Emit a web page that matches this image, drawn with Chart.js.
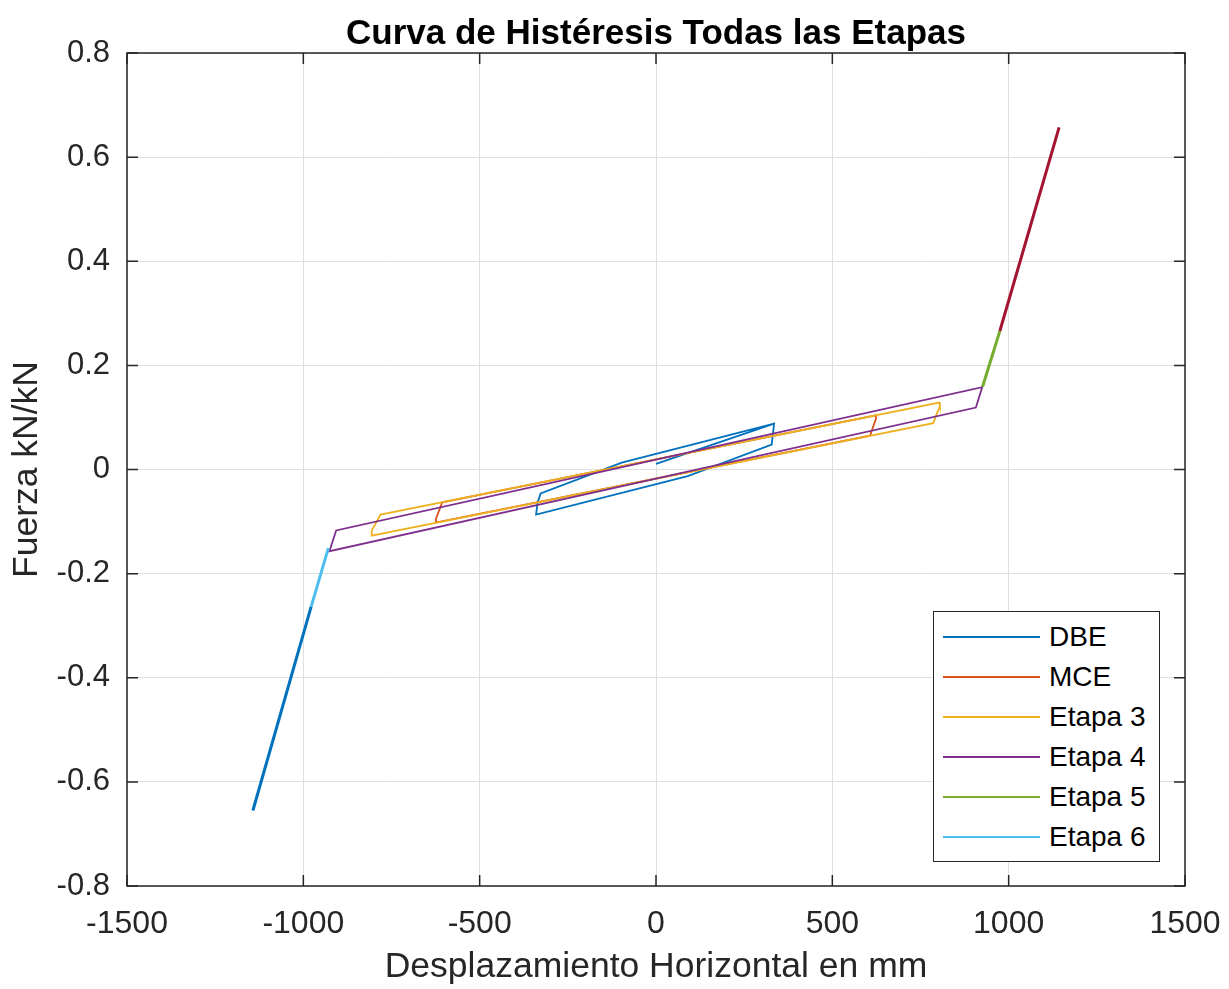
<!DOCTYPE html>
<html>
<head>
<meta charset="utf-8">
<script src="https://cdn.jsdelivr.net/npm/chart.js@4.4.1/dist/chart.umd.min.js"></script>
<style>
  body { margin: 0; background: #fff; }
  #wrap { position: relative; width: 1229px; height: 989px; }
  #legendBox {
    position: absolute; left: 933px; top: 611px; width: 227px; height: 251px;
    box-sizing: border-box; border: 1.3px solid #262626; background: #fff;
    padding-top: 5px; font-family: 'Liberation Sans', Arial, sans-serif;
  }
  .row { display: flex; align-items: center; height: 40px; }
  .swatch { display: block; margin-left: 9px; width: 97px; height: 2px; }
  .label { margin-left: 9px; font-size: 28px; color: #000; }
</style>
</head>
<body>
<div id="wrap">
  <canvas id="hysteresis" width="1229" height="989"></canvas>
  <div id="legendBox"></div>
</div>
<script>
// Hysteresis loops, [displacement mm, force kN/kN]
const dbe = [[0, 0.011], [335, 0.088], [331, 0.066], [328, 0.048], [90, -0.0128], [-340, -0.0865],
             [-336, -0.064], [-327, -0.046], [-97, 0.013], [335, 0.088]];
const mce = [[0, 0.0195], [623, 0.104], [624, 0.098], [607, 0.065], [-625, -0.102], [-624, -0.095],
             [-606, -0.063], [0, 0.0195]];
const etapa3 = [[0, 0.0195], [803, 0.1285], [805, 0.122], [786, 0.089], [-806, -0.127], [-806, -0.117],
                [-781, -0.0865], [0, 0.0195]];
const etapa4 = [[0, 0.019], [925, 0.158], [907, 0.119], [-926, -0.157], [-907, -0.117], [0, 0.019]];
const etapa5 = [[926, 0.159], [975, 0.266]];
const etapa6 = [[-929, -0.151], [-978, -0.264]];
const etapa7 = [[975, 0.266], [1143, 0.657]];
const etapa8 = [[-978, -0.264], [-1143, -0.655]];

const seriesNames = ['DBE', 'MCE', 'Etapa 3', 'Etapa 4', 'Etapa 5', 'Etapa 6', 'Etapa 7', 'Etapa 8'];
const seriesData = [dbe, mce, etapa3, etapa4, etapa5, etapa6, etapa7, etapa8];
const seriesColors = ['#0072BD', '#D95319', '#EDB120', '#7E2F8E', '#77AC30', '#4DBEEE', '#A2142F', '#0072BD'];
const legendCount = 6;

const xTicks = [-1500, -1000, -500, 0, 500, 1000, 1500];
const xTickLabels = ['-1500', '-1000', '-500', '0', '500', '1000', '1500'];
const yTicks = [-0.8, -0.6, -0.4, -0.2, 0, 0.2, 0.4, 0.6, 0.8];
const yTickLabels = ['-0.8', '-0.6', '-0.4', '-0.2', '0', '0.2', '0.4', '0.6', '0.8'];

const chartTitle = 'Curva de Histéresis Todas las Etapas';

const fontFamily = "'Liberation Sans', Arial, Helvetica, sans-serif";
Chart.defaults.font.family = fontFamily;

const ink = '#262626';
const gridColor = '#dfdfdf';

// box around the axes with inward ticks on all four sides, title centred over the plot
const axisFrame = {
  id: 'axisFrame',
  afterDraw(chart) {
    const { ctx, chartArea: a, scales: { x, y } } = chart;
    const len = 11;
    ctx.save();
    ctx.strokeStyle = ink;
    ctx.lineWidth = 1.5;
    ctx.strokeRect(a.left, a.top, a.right - a.left, a.bottom - a.top);
    ctx.beginPath();
    xTicks.forEach(v => {
      const px = x.getPixelForValue(v);
      ctx.moveTo(px, a.bottom); ctx.lineTo(px, a.bottom - len);
      ctx.moveTo(px, a.top); ctx.lineTo(px, a.top + len);
    });
    yTicks.forEach(v => {
      const py = y.getPixelForValue(v);
      ctx.moveTo(a.left, py); ctx.lineTo(a.left + len, py);
      ctx.moveTo(a.right, py); ctx.lineTo(a.right - len, py);
    });
    ctx.stroke();

    ctx.fillStyle = '#000';
    ctx.font = 'bold 35px ' + fontFamily;
    ctx.textAlign = 'center';
    ctx.textBaseline = 'alphabetic';
    ctx.fillText(chartTitle, (a.left + a.right) / 2, 43.5);
    ctx.restore();
  }
};

const datasets = seriesData.map((pts, i) => ({
  label: seriesNames[i],
  data: pts.map(p => ({ x: p[0], y: p[1] })),
  borderColor: seriesColors[i],
  borderWidth: i < 4 ? 1.8 : 3,
  showLine: true,
  pointRadius: 0,
  tension: 0,
  order: -i
}));

const ctx = document.getElementById('hysteresis').getContext('2d');
new Chart(ctx, {
  type: 'scatter',
  data: { datasets },
  options: {
    responsive: false,
    animation: false,
    layout: { padding: { left: 0, right: 44, top: 53, bottom: 0 } },
    plugins: {
      legend: { display: false },
      tooltip: { enabled: false }
    },
    scales: {
      x: {
        type: 'linear',
        min: -1500,
        max: 1500,
        afterBuildTicks: s => { s.ticks = xTicks.map(v => ({ value: v })); },
        afterFit: s => { s.height = 103; s.paddingLeft = 0; s.paddingRight = 0; },
        grid: { color: gridColor, drawTicks: false },
        border: { display: false },
        ticks: {
          color: ink,
          font: { size: 32 },
          padding: 19,
          maxRotation: 0,
          callback: (v, i) => xTickLabels[i]
        },
        title: {
          display: true,
          text: 'Desplazamiento Horizontal en mm',
          color: ink,
          font: { size: 35.5 },
          padding: { top: 0, bottom: 0 }
        }
      },
      y: {
        type: 'linear',
        min: -0.8,
        max: 0.8,
        afterBuildTicks: s => { s.ticks = yTicks.map(v => ({ value: v })); },
        afterFit: s => { s.width = 127; s.paddingTop = 0; s.paddingBottom = 0; },
        grid: { color: gridColor, drawTicks: false },
        border: { display: false },
        ticks: {
          color: ink,
          font: { size: 31 },
          padding: 17,
          callback: (v, i) => yTickLabels[i]
        },
        title: {
          display: true,
          text: 'Fuerza kN/kN',
          color: ink,
          font: { size: 35.5 },
          padding: { top: 6, bottom: 0 }
        }
      }
    }
  },
  plugins: [axisFrame]
});

// legend box inside the plot, first six series only
const legendBox = document.getElementById('legendBox');
seriesNames.slice(0, legendCount).forEach((name, i) => {
  const row = document.createElement('div');
  row.className = 'row';
  const sw = document.createElement('span');
  sw.className = 'swatch';
  sw.style.background = seriesColors[i];
  const lb = document.createElement('span');
  lb.className = 'label';
  lb.textContent = name;
  row.appendChild(sw);
  row.appendChild(lb);
  legendBox.appendChild(row);
});
</script>
</body>
</html>
